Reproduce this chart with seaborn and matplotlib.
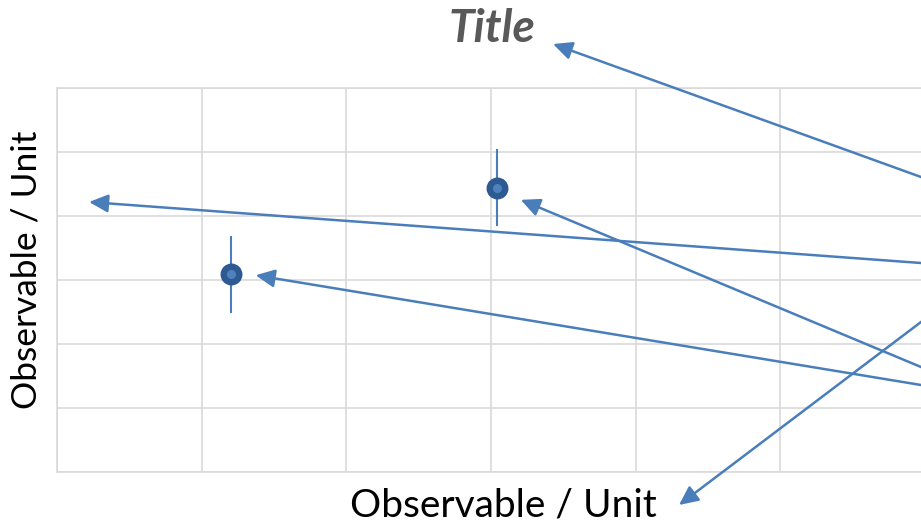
import numpy as np
import pandas as pd
import matplotlib
matplotlib.use("Agg")
import matplotlib.pyplot as plt
import seaborn as sns

# data
x_vals = [1.20, 3.04]
y_vals = [3.09, 4.44]
y_err = [0.60, 0.60]
x_ticks = list(range(0, 7))
y_ticks = list(range(0, 7))
title_text = "Title"
x_label = "Observable / Unit"
y_label = "Observable / Unit"

df = pd.DataFrame({"x": x_vals, "y": y_vals, "err": y_err})

sns.set_theme(style="white")
plt.rcParams['font.family'] = ['Lato', 'DejaVu Sans']

W, H = 921, 526
fig = plt.figure(figsize=(W / 100, H / 100), dpi=100)
ax = fig.add_axes([57 / W, 54 / H, 868 / W, 384 / H])

grid_col = "#D9D9D9"
blue = "#4A7EBB"

ax.errorbar(df["x"], df["y"], yerr=df["err"], fmt="none", ecolor=blue,
            elinewidth=1.5, capsize=0, zorder=3)
sns.scatterplot(data=df, x="x", y="y", ax=ax, s=125, color="#4F81BD",
                edgecolor="#2E5A92", linewidth=4.6, zorder=4, legend=False)

ax.set_xlim(x_ticks[0], x_ticks[-1])
ax.set_ylim(y_ticks[0], y_ticks[-1])
ax.set_xticks(x_ticks)
ax.set_yticks(y_ticks)
ax.set_xticklabels([])
ax.set_yticklabels([])
ax.tick_params(length=0)
ax.grid(True, color=grid_col, linewidth=1.2)
for sp in ax.spines.values():
    sp.set_color(grid_col)
    sp.set_linewidth(1.2)
ax.set_xlabel("")
ax.set_ylabel("")

fig.text(492 / W, 1 - 42 / H, title_text, ha="center", va="baseline",
         fontsize=33, fontweight="bold", fontstyle="italic", color="#595959")
fig.text(503 / W, 1 - 517 / H, x_label, ha="center", va="baseline",
         fontsize=28, color="black")
fig.text(43 / W, 1 - 270 / H, y_label, ha="right", va="center", rotation=90,
         fontsize=25.5, color="black")


def px(x, y):
    # image pixel (top-left origin) -> figure pixels
    return (x, H - y)


def tail(tip, via, to_x=1150):
    t = (to_x - tip[0]) / (via[0] - tip[0])
    return (tip[0] + t * (via[0] - tip[0]), tip[1] + t * (via[1] - tip[1]))


# arrows pointing at chart parts, coming from outside the right edge
pt_pix = ax.transData.transform(np.column_stack([x_vals, y_vals]))
pt1 = (pt_pix[0][0] + 25, H - pt_pix[0][1] + 1)
pt2 = (pt_pix[1][0] + 24, H - pt_pix[1][1] + 12)

arrows = [
    ((553, 44), (921, 177)),   # title
    ((89, 202), (921, 263)),   # y label
    (pt2, (921, 367)),         # point 2
    (pt1, (921, 385)),         # point 1
    ((679, 505), (921, 322)),  # x label
]
for tip, via in arrows:
    tl = tail(tip, via)
    ax.annotate("", xy=px(*tip), xycoords="figure pixels",
                xytext=px(*tl), textcoords="figure pixels",
                annotation_clip=False,
                arrowprops=dict(arrowstyle="-|>,head_length=0.55,head_width=0.26",
                                mutation_scale=21, color=blue, lw=1.8,
                                shrinkA=0, shrinkB=0))

fig.savefig("out.png", dpi=100)
